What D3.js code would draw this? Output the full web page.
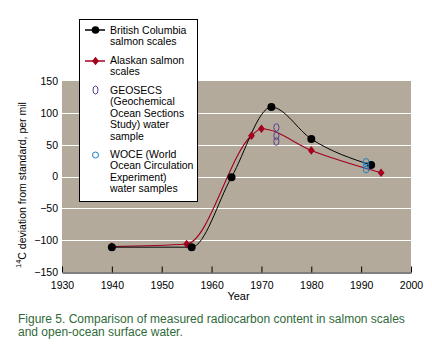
<!DOCTYPE html>
<html>
<head>
<meta charset="utf-8">
<script src="https://cdn.jsdelivr.net/npm/d3@7/dist/d3.min.js"></script>
<style>
  body { margin: 0; background: #fff; }
  text { font-family: "Liberation Sans", Arial, sans-serif; }
</style>
</head>
<body>
<div id="chart"></div>
<script>
var bcYears = [1940, 1956, 1964, 1972, 1980, 1992],
	bcValues = [-111, -111, -1, 109, 59, 18];

var akYears = [1940, 1955, 1968, 1970, 1980, 1994],
	akValues = [-110, -106, 64, 75, 41, 6];

var geosecsYears = [1973, 1973, 1973],
	geosecsValues = [77, 64, 55];

var woceYears = [1991, 1991, 1991],
	woceValues = [23, 17, 11];

var xTicks = [1930, 1940, 1950, 1960, 1970, 1980, 1990, 2000],
	yTicks = [-150, -100, -50, 0, 50, 100, 150];

var legendLabels = [
	["British Columbia", "salmon scales"],
	["Alaskan salmon", "scales"],
	["GEOSECS", "(Geochemical", "Ocean Sections", "Study) water", "sample"],
	["WOCE (World", "Ocean Circulation", "Experiment)", "water samples"]
];

var caption = ["Figure 5. Comparison of measured radiocarbon content in salmon scales",
	"and open-ocean surface water."];

var red = "#a3001e",
	purple = "#5a3d8e",
	blue = "#1c80c4";

var width = 432, height = 361,
	margin = {top: 81, left: 62, right: 21, bottom: 89};

var svg = d3.select("#chart").append("svg")
	.attr("width", width)
	.attr("height", height);

var x = d3.scaleLinear().domain([1930, 2000]).range([margin.left, width - margin.right]),
	y = d3.scaleLinear().domain([-150, 150]).range([height - margin.bottom, margin.top]);

function zip(xs, ys) {
	return xs.map(function(v, i) { return [v, ys[i]]; });
}

// plot background
svg.append("rect")
	.attr("x", x(1930))
	.attr("y", y(150))
	.attr("width", x(2000) - x(1930))
	.attr("height", y(-150) - y(150))
	.attr("fill", "#b3aa9c");

// white grid lines
svg.append("g")
  .selectAll("line")
	.data(yTicks.filter(function(d) { return d > -150 && d < 150; }))
  .enter().append("line")
	.attr("x1", x(1930))
	.attr("x2", x(2000))
	.attr("y1", function(d) { return Math.round(y(d)) + 0.5; })
	.attr("y2", function(d) { return Math.round(y(d)) + 0.5; })
	.attr("stroke", "#fff")
	.attr("stroke-width", 1);

// x axis, ticks pointing up into the plot
var xAxis = svg.append("g")
	.attr("transform", "translate(0," + (Math.round(y(-150)) + 0.5) + ")")
	.call(d3.axisBottom(x).tickValues(xTicks).tickFormat(d3.format("d")).tickSizeInner(-6).tickSizeOuter(0).tickPadding(5));
xAxis.select(".domain").attr("stroke", "#000");
xAxis.selectAll(".tick line").attr("stroke", "#000");
xAxis.selectAll(".tick text")
	.attr("dy", "1.1em")
	.style("font-size", "10.5px")
	.attr("fill", "#000");

// y axis labels only
var yAxis = svg.append("g")
	.attr("transform", "translate(" + x(1930) + ",0)")
	.call(d3.axisLeft(y).tickValues(yTicks).tickSize(0).tickPadding(4));
yAxis.select(".domain").remove();
yAxis.selectAll(".tick text")
	.style("font-size", "10.5px")
	.attr("fill", "#000");

svg.append("text")
	.attr("x", (x(1930) + x(2000)) / 2 + 2)
	.attr("y", 300)
	.attr("text-anchor", "middle")
	.style("font-size", "11px")
	.text("Year");

var yLabel = svg.append("text")
	.attr("transform", "translate(26,268) rotate(-90)")
	.style("font-size", "10.5px");
yLabel.append("tspan").style("font-size", "7.5px").attr("dy", -5).text("14");
yLabel.append("tspan").attr("dy", 5).text("C deviation from standard, per mil");

var line = d3.line()
	.x(function(d) { return x(d[0]); })
	.y(function(d) { return y(d[1]); })
	.curve(d3.curveMonotoneX);

var diamond = "M0,-4.3L3.4,0L0,4.3L-3.4,0Z";

// Alaskan series
svg.append("path")
	.attr("d", line(zip(akYears, akValues)))
	.attr("fill", "none")
	.attr("stroke", red)
	.attr("stroke-width", 1.1);

svg.append("path")
	.attr("d", line(zip(bcYears, bcValues)))
	.attr("fill", "none")
	.attr("stroke", "#000")
	.attr("stroke-width", 1);

svg.append("g")
  .selectAll("path")
	.data(zip(akYears, akValues))
  .enter().append("path")
	.attr("transform", function(d) { return "translate(" + x(d[0]) + "," + y(d[1]) + ")"; })
	.attr("d", diamond)
	.attr("fill", red);

svg.append("g")
  .selectAll("circle")
	.data(zip(bcYears, bcValues))
  .enter().append("circle")
	.attr("cx", function(d) { return x(d[0]); })
	.attr("cy", function(d) { return y(d[1]); })
	.attr("r", 4)
	.attr("fill", "#000");

svg.append("g")
  .selectAll("ellipse")
	.data(zip(geosecsYears, geosecsValues))
  .enter().append("ellipse")
	.attr("cx", function(d) { return x(d[0]); })
	.attr("cy", function(d) { return y(d[1]); })
	.attr("rx", 2.6)
	.attr("ry", 3.8)
	.attr("fill", "none")
	.attr("stroke", purple)
	.attr("stroke-width", 1);

svg.append("g")
  .selectAll("ellipse")
	.data(zip(woceYears, woceValues))
  .enter().append("ellipse")
	.attr("cx", function(d) { return x(d[0]); })
	.attr("cy", function(d) { return y(d[1]); })
	.attr("rx", 2.8)
	.attr("ry", 3.3)
	.attr("fill", "none")
	.attr("stroke", blue)
	.attr("stroke-width", 1);

// legend
var legend = svg.append("g");
legend.append("rect")
	.attr("x", 79.5)
	.attr("y", 19.5)
	.attr("width", 118)
	.attr("height", 182)
	.attr("fill", "#fff")
	.attr("stroke", "#000");

var entryTop = [34, 64, 94, 158],
	markerY = [30, 61, 90, 155];

legendLabels.forEach(function(lines, i) {
	var t = legend.append("text")
		.attr("x", 110)
		.attr("y", entryTop[i])
		.style("font-size", "10.5px");
	lines.forEach(function(s, j) {
		t.append("tspan").attr("x", 110).attr("dy", j ? 11.4 : 0).text(s);
	});
});

legend.append("line")
	.attr("x1", 85).attr("x2", 105)
	.attr("y1", markerY[0]).attr("y2", markerY[0])
	.attr("stroke", "#000").attr("stroke-width", 1.5);
legend.append("circle")
	.attr("cx", 95.5).attr("cy", markerY[0]).attr("r", 3.8)
	.attr("fill", "#000");

legend.append("line")
	.attr("x1", 85).attr("x2", 105)
	.attr("y1", markerY[1]).attr("y2", markerY[1])
	.attr("stroke", red).attr("stroke-width", 1.5);
legend.append("path")
	.attr("transform", "translate(95.5," + markerY[1] + ")")
	.attr("d", diamond)
	.attr("fill", red);

legend.append("ellipse")
	.attr("cx", 95.5).attr("cy", markerY[2]).attr("rx", 2.5).attr("ry", 4)
	.attr("fill", "none").attr("stroke", purple);

legend.append("circle")
	.attr("cx", 95.5).attr("cy", markerY[3]).attr("r", 3)
	.attr("fill", "none").attr("stroke", blue);

// caption
var cap = svg.append("text")
	.attr("x", 18)
	.attr("y", 323)
	.attr("fill", "#2f6a38")
	.style("font-size", "12px");
caption.forEach(function(s, i) {
	cap.append("tspan").attr("x", 18).attr("dy", i ? 12.6 : 0).text(s);
});
</script>
</body>
</html>
